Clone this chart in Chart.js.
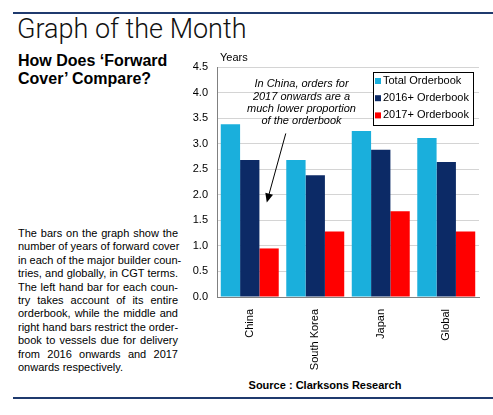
<!DOCTYPE html>
<html>
<head>
<meta charset="utf-8">
<script src="https://cdn.jsdelivr.net/npm/chart.js@4/dist/chart.umd.min.js"></script>
<style>
  html, body { margin:0; padding:0; background:#fff; width:493px; height:415px; overflow:hidden; }
  body { position:relative; font-family:"Liberation Sans", Arial, sans-serif; color:#000; }
  .rule { position:absolute; left:13px; right:0; background:#1f3a6e; }
  #title { position:absolute; left:17px; top:14px; font-family:Roboto, "Liberation Sans", sans-serif; font-weight:300; font-size:27px; line-height:31px; color:#111; white-space:nowrap; }
  #subtitle { position:absolute; left:18px; top:52px; font-weight:bold; font-size:16px; line-height:18px; white-space:nowrap; }
  #para { position:absolute; left:18px; top:227px; width:160px; font-size:11px; line-height:13.4px; }
  #para div { text-align:justify; text-align-last:justify; white-space:nowrap; }
  #para div.last { text-align-last:left; }
  #source { position:absolute; left:180px; width:290px; top:379px; text-align:center; font-weight:bold; font-size:11px; }
  #wrap { position:absolute; left:180px; top:50px; width:313px; height:325px; }
</style>
</head>
<body>
<div class="rule" style="top:12px;height:2px;"></div>
<div id="title">Graph of the Month</div>
<div id="subtitle">How Does ‘Forward<br>Cover’ Compare?</div>
<div id="para">
<div>The bars on the graph show the</div>
<div>number of years of forward cover</div>
<div>in each of the major builder coun-</div>
<div>tries, and globally, in CGT terms.</div>
<div>The left hand bar for each coun-</div>
<div>try takes account of its entire</div>
<div>orderbook, while the middle and</div>
<div>right hand bars restrict the order-</div>
<div>book to vessels due for delivery</div>
<div>from 2016 onwards and 2017</div>
<div class="last">onwards respectively.</div>
</div>
<div id="wrap"><canvas id="c" width="313" height="325"></canvas></div>
<div id="source">Source : Clarksons Research</div>
<div class="rule" style="top:397px;height:2px;"></div>
<script>
const categories = ['China', 'South Korea', 'Japan', 'Global'];
const seriesNames = ['Total Orderbook', '2016+ Orderbook', '2017+ Orderbook'];
const totalOrderbook = [3.38, 2.68, 3.25, 3.11];
const orderbook2016 = [2.68, 2.38, 2.88, 2.64];
const orderbook2017 = [0.95, 1.28, 1.68, 1.28];
const yTicks = [0, 0.5, 1.0, 1.5, 2.0, 2.5, 3.0, 3.5, 4.0, 4.5];
const noteLines = ['In China, orders for', '2017 onwards are a', 'much lower proportion', 'of the orderbook'];
const colors = ['#1aafdc', '#0c2a66', '#ff0000'];

const extras = {
  id: 'extras',
  afterDraw(chart) {
    const ctx = chart.ctx, xs = chart.scales.x, ys = chart.scales.y, ca = chart.chartArea;
    ctx.save();
    ctx.font = '11px "Liberation Sans", Arial, sans-serif';
    ctx.fillStyle = '#000';
    ctx.textAlign = 'left'; ctx.textBaseline = 'middle';
    ctx.fillText('Years', ca.left + 3, ca.top - 9);
    const cw = xs.getPixelForValue(1) - xs.getPixelForValue(0);
    const tx = xs.getPixelForValue(0) + 0.79 * cw;
    ctx.font = 'italic 11px "Liberation Sans", Arial, sans-serif';
    ctx.textAlign = 'center';
    noteLines.forEach((l, i) => ctx.fillText(l, tx, ys.getPixelForValue(4.16) + i * 12.3));
    const x1 = xs.getPixelForValue(0) + 0.55 * cw, y1 = ys.getPixelForValue(3.2);
    const x2 = xs.getPixelForValue(0) + 0.26 * cw, y2 = ys.getPixelForValue(1.85);
    const ang = Math.atan2(y2 - y1, x2 - x1);
    ctx.strokeStyle = '#000'; ctx.lineWidth = 1;
    ctx.beginPath(); ctx.moveTo(x1, y1);
    ctx.lineTo(x2 - 6 * Math.cos(ang), y2 - 6 * Math.sin(ang)); ctx.stroke();
    ctx.beginPath(); ctx.moveTo(x2, y2);
    ctx.lineTo(x2 - 9 * Math.cos(ang) + 4 * Math.sin(ang), y2 - 9 * Math.sin(ang) - 4 * Math.cos(ang));
    ctx.lineTo(x2 - 9 * Math.cos(ang) - 4 * Math.sin(ang), y2 - 9 * Math.sin(ang) + 4 * Math.cos(ang));
    ctx.closePath(); ctx.fillStyle = '#000'; ctx.fill();
    const bw = 100, bh = 53;
    const bx = ca.right - bw - 6, by = ca.top + 5;
    ctx.fillStyle = '#fff'; ctx.fillRect(bx, by, bw, bh);
    ctx.strokeStyle = '#000'; ctx.lineWidth = 1;
    ctx.strokeRect(Math.round(bx) + 0.5, Math.round(by) + 0.5, bw, bh);
    ctx.font = '11px "Liberation Sans", Arial, sans-serif';
    ctx.textAlign = 'left'; ctx.textBaseline = 'middle';
    chart.data.datasets.forEach((ds, i) => {
      const iy = by + 9 + i * 17.2;
      ctx.fillStyle = ds.backgroundColor;
      ctx.fillRect(bx + 2, iy - 3, 6, 6);
      ctx.fillStyle = '#000';
      ctx.fillText(ds.label, bx + 10, iy);
    });
    ctx.restore();
  }
};

new Chart(document.getElementById('c'), {
  type: 'bar',
  data: {
    labels: categories,
    datasets: [
      { label: seriesNames[0], data: totalOrderbook, backgroundColor: colors[0] },
      { label: seriesNames[1], data: orderbook2016, backgroundColor: colors[1] },
      { label: seriesNames[2], data: orderbook2017, backgroundColor: colors[2] }
    ]
  },
  options: {
    responsive: false,
    animation: false,
    layout: { padding: { top: 17, right: 14, left: 0, bottom: 0 } },
    datasets: { bar: { categoryPercentage: 0.885, barPercentage: 1.0 } },
    plugins: { legend: { display: false }, tooltip: { enabled: false } },
    scales: {
      x: {
        grid: { display: false },
        border: { color: '#808080', width: 1 },
        ticks: { minRotation: 90, maxRotation: 90, padding: 4, color: '#000',
                 font: { family: '"Liberation Sans", Arial, sans-serif', size: 11 } },
        afterFit(s) { s.height = 78; }
      },
      y: {
        min: 0, max: 4.5,
        afterBuildTicks(s) { s.ticks = yTicks.map(v => ({ value: v })); },
        grid: { color: '#d4d4d4', drawTicks: false },
        border: { color: '#808080', width: 1 },
        ticks: { padding: 9, color: '#000', callback: v => v.toFixed(1),
                 font: { family: '"Liberation Sans", Arial, sans-serif', size: 11 } },
        afterFit(s) { s.width = 37; }
      }
    }
  },
  plugins: [extras]
});
</script>
</body>
</html>
